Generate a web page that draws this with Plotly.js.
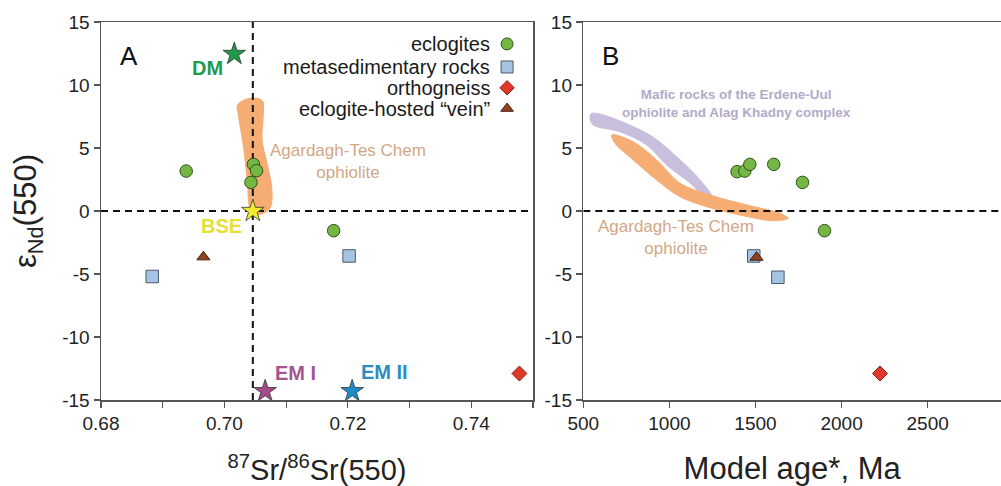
<!DOCTYPE html>
<html><head><meta charset="utf-8">
<script src="https://cdn.plot.ly/plotly-3.0.1.min.js"></script>
<style>html,body{margin:0;padding:0;background:#fff}#chart{width:1001px;height:486px}</style>
</head><body><div id="chart"></div>
<script>
// ---- Panel A data: 87Sr/86Sr(550) vs eNd(550)
const eclA_x = [0.6938, 0.7047, 0.7052, 0.7043, 0.7177];
const eclA_y = [3.17, 3.70, 3.20, 2.27, -1.56];
const metA_x = [0.6883, 0.7202];
const metA_y = [-5.20, -3.57];
const orthoA_x = [0.7478];
const orthoA_y = [-12.9];
const veinA_x = [0.6966];
const veinA_y = [-3.65];
// mantle reservoirs
const resNames = ['DM', 'BSE', 'EM I', 'EM II'];
const resSr = [0.7016, 0.7046, 0.7066, 0.7207];
const resNd = [12.46, 0, -14.3, -14.3];
const resColors = ['#1e9a4c', '#f2ea2c', '#a24d8a', '#1f8cc6'];
const resLabelColors = ['#219a4e', '#e6e036', '#a45590', '#2d8dc2'];
// Agardagh-Tes Chem field in Sr-Nd space
const atcA_x = [0.7021, 0.7032, 0.7049, 0.7062, 0.7063, 0.7061, 0.7069, 0.7077, 0.7074, 0.7060, 0.7044, 0.7037, 0.7031, 0.7022];
const atcA_y = [8.41, 8.81, 8.97, 8.73, 7.78, 5.63, 3.81, 1.67, 0.24, -0.24, -0.08, 2.46, 5.08, 7.78];

// ---- Panel B data: Model age (Ma) vs eNd(550)
const eclB_x = [1393, 1438, 1467, 1606, 1773, 1901];
const eclB_y = [3.12, 3.17, 3.70, 3.70, 2.27, -1.56];
const metB_x = [1490, 1630];
const metB_y = [-3.57, -5.26];
const orthoB_x = [2223];
const orthoB_y = [-12.9];
const veinB_x = [1506];
const veinB_y = [-3.68];
// Erdene-Uul / Alag Khadny field
const euB_x = [549, 868, 1042, 1178, 1246, 1217, 1120, 984, 868, 713, 558, 539];
const euB_y = [7.75, 6.17, 4.31, 2.46, 1.13, 1.01, 2.22, 3.65, 5.24, 6.29, 6.83, 7.38];
// Agardagh-Tes Chem field in age space
const atcB_x = [665, 789, 926, 1062, 1236, 1449, 1642, 1690, 1603, 1410, 1217, 1062, 926, 790, 684];
const atcB_y = [6.03, 5.50, 4.05, 2.20, 1.27, 0.48, -0.18, -0.58, -0.77, -0.32, 0.34, 1.13, 2.46, 4.05, 5.37];

// axes / ticks
const xA_range = [0.68, 0.75];
const xA_tickvals = [0.68, 0.70, 0.72, 0.74];
const xA_ticktext = ['0.68', '0.70', '0.72', '0.74'];
const xA_minorvals = [0.69, 0.71, 0.73, 0.75];
const xB_range = [500, 2926];
const xB_tickvals = [500, 1000, 1500, 2000, 2500];
const y_range = [-15, 15];
const y_tickvals = [-15, -10, -5, 0, 5, 10, 15];
const y_ticktext = ['-15', '-10', '-5', '0', '5', '10', '15'];

// legend
const legNames = ['eclogites', 'metasedimentary rocks', 'orthogneiss', 'eclogite-hosted \u201cvein\u201d'];
const legSymbols = ['circle', 'square', 'diamond', 'triangle-up'];
const legFill = ['#74b843', '#a5c3e3', '#e2382a', '#8e4220'];
const legLine = ['#2f4f1c', '#4d5a6a', '#8a1e16', '#4a2210'];
const legSize = [12, 12, 11, 11];
const legX = 0.94, legTextX = 0.905;
const legY = [0.942, 0.881, 0.826, 0.771];

const FONT = 'Liberation Sans, Arial, sans-serif';
const ORANGE = '#f6ad74';
const LAV = '#c9bfdd';

function pts(x, y, i, xa, ya) {
  return {x: x, y: y, xaxis: xa, yaxis: ya, type: 'scatter', mode: 'markers', hoverinfo: 'skip',
    marker: {symbol: legSymbols[i], size: legSize[i] + 0.5, color: legFill[i], opacity: 1, line: {color: legLine[i], width: 1}}};
}
function field(x, y, color, xa, ya) {
  return {x: x.concat([x[0]]), y: y.concat([y[0]]), xaxis: xa, yaxis: ya, type: 'scatter', mode: 'lines',
    fill: 'toself', fillcolor: color, line: {color: color, width: 1, shape: 'spline', smoothing: 1}, hoverinfo: 'skip'};
}
function dash(x, y, xa, ya) {
  return {x: x, y: y, xaxis: xa, yaxis: ya, type: 'scatter', mode: 'lines', hoverinfo: 'skip',
    line: {color: '#111', width: 2, dash: '7px,5px'}};
}

const traces = [
  field(atcA_x, atcA_y, ORANGE, 'x', 'y'),
  field(euB_x, euB_y, LAV, 'x2', 'y2'),
  field(atcB_x, atcB_y, ORANGE, 'x2', 'y2'),
  dash([resSr[1], resSr[1]], y_range, 'x', 'y'),
  dash(xA_range, [resNd[1], resNd[1]], 'x', 'y'),
  dash(xB_range, [0, 0], 'x2', 'y2'),
  pts(eclA_x, eclA_y, 0, 'x', 'y'),
  pts(metA_x, metA_y, 1, 'x', 'y'),
  pts(orthoA_x, orthoA_y, 2, 'x', 'y'),
  pts(veinA_x, veinA_y, 3, 'x', 'y'),
  {x: resSr, y: resNd, xaxis: 'x', yaxis: 'y', type: 'scatter', mode: 'markers', hoverinfo: 'skip',
   marker: {symbol: 'star', size: 17, color: resColors, opacity: 1, line: {color: '#333', width: 0.8}}},
  pts(eclB_x, eclB_y, 0, 'x2', 'y2'),
  pts(metB_x, metB_y, 1, 'x2', 'y2'),
  pts(orthoB_x, orthoB_y, 2, 'x2', 'y2'),
  pts(veinB_x, veinB_y, 3, 'x2', 'y2'),
  {x: legY.map(() => legX), y: legY, xaxis: 'x3', yaxis: 'y3', type: 'scatter', mode: 'markers', hoverinfo: 'skip',
   marker: {symbol: legSymbols, size: legSize, color: legFill, opacity: 1, line: {color: legLine, width: 1}}}
];

const axLine = '#555';
const tickFont = {family: FONT, size: 19, color: '#222'};
const baseX = {showgrid: false, zeroline: false, showline: true, linecolor: axLine, linewidth: 1.5, mirror: true,
  ticks: 'outside', ticklen: 6, tickcolor: axLine, tickwidth: 1.2, tickfont: tickFont, fixedrange: true};
const baseY = Object.assign({}, baseX, {range: y_range, tickmode: 'array', tickvals: y_tickvals, ticktext: y_ticktext});

const ann = [];
// reservoir labels
const resLabX = [0.6972, 0.6995, 0.7115, 0.7260];
const resLabY = [11.35, -1.19, -12.86, -12.78];
resNames.forEach((n, i) => ann.push({xref: 'x', yref: 'y', x: resLabX[i], y: resLabY[i], text: '<b>' + n + '</b>',
  showarrow: false, font: {family: FONT, size: 20, color: resLabelColors[i]}}));
// field labels
ann.push({xref: 'x', yref: 'y', x: 0.7201, y: 3.89, text: 'Agardagh-Tes Chem<br>ophiolite', showarrow: false,
  font: {family: FONT, size: 17, color: '#d2a784'}});
ann.push({xref: 'x2', yref: 'y2', x: 1038, y: -2.1, text: 'Agardagh-Tes Chem<br>ophiolite', showarrow: false,
  font: {family: FONT, size: 17, color: '#d2a784'}});
ann.push({xref: 'x2', yref: 'y2', x: 1387, y: 8.57, text: '<b>Mafic rocks of the Erdene-Uul<br>ophiolite and Alag Khadny complex</b>',
  showarrow: false, font: {family: FONT, size: 13.5, color: '#b3aac9'}});
// panel letters
ann.push({xref: 'x3', yref: 'y3', x: 0.04, y: 0.91, xanchor: 'left', text: 'A', showarrow: false, font: {family: FONT, size: 26, color: '#111'}});
ann.push({xref: 'x4', yref: 'y4', x: 0.04, y: 0.91, xanchor: 'left', text: 'B', showarrow: false, font: {family: FONT, size: 26, color: '#111'}});
// legend text
legNames.forEach((n, i) => ann.push({xref: 'x3', yref: 'y3', x: legTextX, y: legY[i], xanchor: 'right', text: n,
  showarrow: false, font: {family: FONT, size: 20, color: '#1a1a1a'}}));

const domA = [0, 0.48], domB = [0.5359, 1];
const hidden = {visible: false, range: [0, 1], fixedrange: true};

const layout = {
  width: 1001, height: 486, margin: {l: 101, r: 0, t: 22, b: 86},
  paper_bgcolor: '#fff', plot_bgcolor: 'rgba(0,0,0,0)', showlegend: false,
  font: {family: FONT, color: '#222'},
  xaxis: Object.assign({}, baseX, {domain: domA, range: xA_range, tickmode: 'array', tickvals: xA_tickvals, ticktext: xA_ticktext,
    minor: {tickvals: xA_minorvals, ticks: 'outside', ticklen: 6, tickcolor: axLine, tickwidth: 1.2, showgrid: false},
    anchor: 'y', title: {text: '<sup>87</sup>Sr/<sup>86</sup>Sr(550)', font: {family: FONT, size: 29, color: '#222'}, standoff: 27}}),
  yaxis: Object.assign({}, baseY, {domain: [0, 1], anchor: 'x',
    title: {text: '\u03b5<sub>Nd</sub>(550)', font: {family: FONT, size: 31, color: '#222'}, standoff: 16}}),
  xaxis2: Object.assign({}, baseX, {domain: domB, range: xB_range, tickmode: 'array', tickvals: xB_tickvals, anchor: 'y2',
    title: {text: 'Model age*, Ma', font: {family: FONT, size: 31, color: '#222'}, standoff: 25}}),
  yaxis2: Object.assign({}, baseY, {domain: [0, 1], anchor: 'x2'}),
  xaxis3: Object.assign({}, hidden, {domain: domA, anchor: 'y3', overlaying: 'x'}),
  yaxis3: Object.assign({}, hidden, {domain: [0, 1], anchor: 'x3', overlaying: 'y'}),
  xaxis4: Object.assign({}, hidden, {domain: domB, anchor: 'y4', overlaying: 'x2'}),
  yaxis4: Object.assign({}, hidden, {domain: [0, 1], anchor: 'x4', overlaying: 'y2'}),
  annotations: ann
};
Plotly.newPlot('chart', traces, layout, {staticPlot: true, displayModeBar: false});
</script></body></html>
